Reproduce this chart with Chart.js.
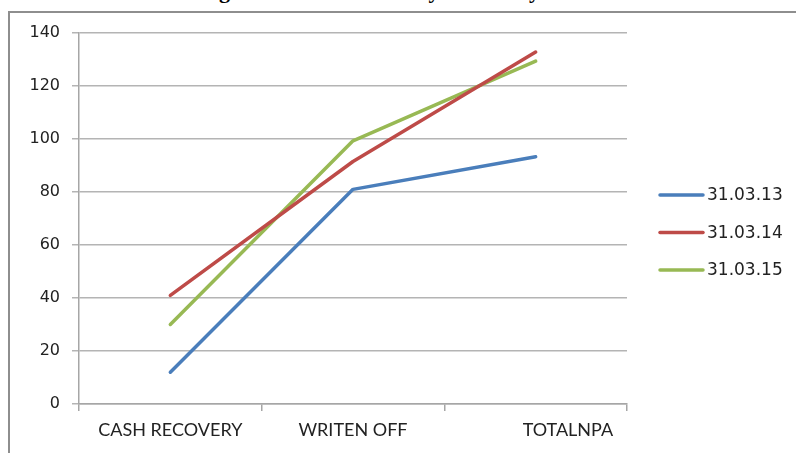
<!DOCTYPE html>
<html>
<head>
<meta charset="utf-8">
<script src="https://cdn.jsdelivr.net/npm/chart.js@4"></script>
<style>
  html, body { margin: 0; padding: 0; background: #fff; }
  #wrap { position: relative; width: 796px; height: 453px; overflow: hidden; }
  #title {
    position: absolute; left: 186px; top: -22px;
    font: bold 22px "Liberation Serif", serif; color: #000; white-space: nowrap;
  }
  #frame {
    position: absolute; left: 8px; top: 11px; width: 800px; height: 460px;
    border-top: 2px solid #8e8e8e; border-left: 2px solid #8e8e8e; background: #fff;
  }
  canvas { position: absolute; left: 0; top: 0; }
</style>
</head>
<body>
<div id="wrap">
  <div id="title">Diagram 3: Cash Recovery of NPA by PSBs</div>
  <div id="frame"></div>
  <canvas id="c" width="796" height="453"></canvas>
</div>
<script>
// Categories and series
const categories = ['CASH RECOVERY', 'WRITEN OFF', 'TOTALNPA'];
const seriesNames = ['31.03.13', '31.03.14', '31.03.15'];
const values1303 = [12, 81, 93.3];
const values1404 = [41, 91.5, 132.8];
const values1503 = [30, 99.3, 129.4];
const yTicks = [0, 20, 40, 60, 80, 100, 120, 140];

const colors = ['#4a7ebb', '#be4b48', '#98b954'];
const CAT_FONT = 'Lato, "Open Sans", sans-serif';
const NUM_FONT = '"DejaVu Sans", sans-serif';

// Legend drawn beside the plot area, one line sample per series
const sideLegend = {
  id: 'sideLegend',
  afterDraw(chart) {
    const ctx = chart.ctx;
    const x0 = chart.chartArea.right + 33;
    const yStart = 195, gap = 37.5;
    ctx.save();
    ctx.font = '17px ' + NUM_FONT;
    ctx.textBaseline = 'middle';
    chart.data.datasets.forEach((ds, i) => {
      const y = yStart + i * gap;
      ctx.strokeStyle = ds.borderColor;
      ctx.lineWidth = 3.5;
      ctx.lineCap = 'round';
      ctx.beginPath();
      ctx.moveTo(x0, y);
      ctx.lineTo(x0 + 43, y);
      ctx.stroke();
      ctx.fillStyle = '#222';
      ctx.fillText(ds.label, x0 + 47, y + 1);
    });
    ctx.restore();
  }
};

new Chart(document.getElementById('c'), {
  type: 'line',
  data: {
    labels: categories,
    datasets: [values1303, values1404, values1503].map((v, i) => ({
      label: seriesNames[i],
      data: v,
      borderColor: colors[i],
      backgroundColor: colors[i],
      borderWidth: 3.5,
      pointRadius: 0,
      tension: 0,
      borderCapStyle: 'round',
      borderJoinStyle: 'round'
    }))
  },
  options: {
    responsive: false,
    animation: false,
    layout: { padding: { top: 33, right: 169, left: 0, bottom: 0 } },
    plugins: { legend: { display: false }, tooltip: { enabled: false } },
    scales: {
      x: {
        offset: true,
        grid: { offset: true, drawOnChartArea: false, drawTicks: true, tickLength: 7, color: '#a6a6a6', lineWidth: 1.5 },
        border: { display: true, color: '#a6a6a6', width: 1.5 },
        ticks: {
          color: '#222', font: { family: CAT_FONT, size: 18 }, padding: 8, maxRotation: 0,
          // the last category label sits right of its tick centre
          callback(value, index) {
            const label = this.getLabelForValue(value);
            return index === categories.length - 1 ? ' '.repeat(14) + label : label;
          }
        },
        afterFit(scale) { scale.height = 49; }
      },
      y: {
        min: 0, max: 140,
        afterBuildTicks(scale) { scale.ticks = yTicks.map(v => ({ value: v })); },
        grid: { color: '#b4b4b4', lineWidth: 1.5, drawTicks: true, tickLength: 7 },
        border: { display: true, color: '#a6a6a6', width: 1.5 },
        ticks: { color: '#222', font: { family: NUM_FONT, size: 16 }, padding: 12 },
        afterFit(scale) { scale.width = 79; }
      }
    }
  },
  plugins: [sideLegend]
});
</script>
</body>
</html>
